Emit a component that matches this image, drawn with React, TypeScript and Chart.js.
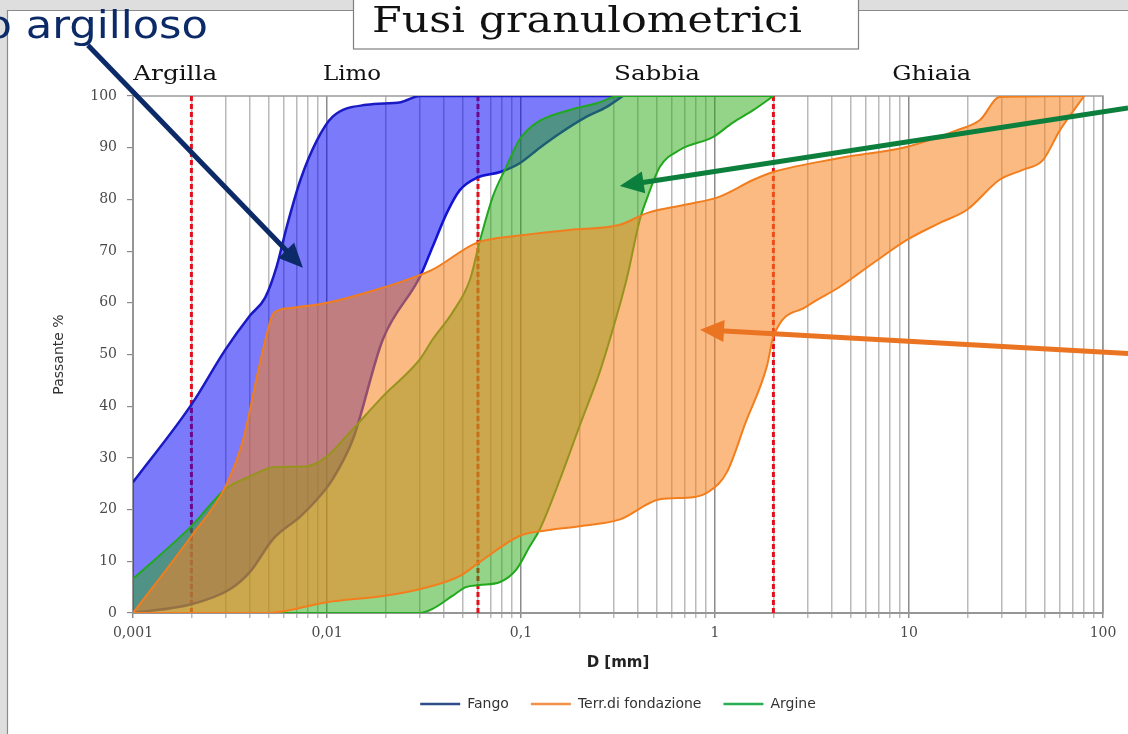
import React, { useEffect, useRef } from "react";
import { Chart, registerables } from "chart.js";

Chart.register(...registerables);

// ---------- DATA ----------
// Fango (upper / lower envelope)
const fangoSupX = [0.001, 0.002, 0.003, 0.004, 0.0048, 0.0055, 0.0062, 0.0073, 0.0089, 0.0107, 0.016, 0.024, 0.03, 0.335];
const fangoSupY = [25.3, 40.3, 51, 57.5, 61, 67, 74.7, 83.8, 91.5, 96, 98.3, 98.8, 100, 100];
const fangoInfX = [0.001, 0.002, 0.00316, 0.004, 0.00527, 0.0073, 0.0089, 0.0107, 0.0136, 0.0194, 0.0301, 0.035, 0.0415, 0.0484, 0.0593, 0.0782, 0.0985, 0.125, 0.159, 0.218, 0.277, 0.335];
const fangoInfY = [0, 1.7, 4.6, 7.9, 14.3, 18.7, 22, 25.9, 33.6, 52.9, 65, 70.8, 77.4, 81.8, 84.2, 85.3, 87, 90, 92.8, 96, 97.9, 100];

// Terr. di fondazione
const terrSupX = [0.001, 0.002, 0.003, 0.0037, 0.0044, 0.0049, 0.0053, 0.0065, 0.01, 0.016, 0.0238, 0.035, 0.059, 0.098, 0.178, 0.324, 0.449, 0.71, 1.05, 1.58, 2.0, 4.4, 9.8, 17.7, 23.3, 29.3, 80];
const terrSupY = [0, 14.9, 24.5, 33.6, 46.5, 54, 58, 59, 60, 62, 64, 66.4, 71.6, 73, 74.1, 75.1, 77.4, 79, 80.5, 83.8, 85.3, 88, 90.2, 93.4, 95.4, 99.8, 100];
const terrInfX = [0.001, 0.0049, 0.01, 0.0194, 0.03, 0.048, 0.061, 0.098, 0.125, 0.2, 0.324, 0.52, 0.77, 0.94, 1.15, 1.44, 1.85, 2.0, 2.97, 4.4, 6.6, 9.8, 14.5, 19.9, 29.3, 38.5, 49, 60, 80];
const terrInfY = [0, 0, 2.1, 3.3, 4.6, 7.1, 9.8, 14.9, 15.8, 16.8, 18.1, 22, 22.4, 23.6, 27.2, 36.9, 47.7, 53.5, 59.3, 63.1, 67.8, 72.2, 75.5, 78, 83.8, 85.7, 87.6, 93.4, 100];

// Argine
const argineSupX = [0.001, 0.002, 0.003, 0.004, 0.0053, 0.0079, 0.01, 0.0126, 0.0194, 0.03, 0.035, 0.0443, 0.0546, 0.061, 0.0715, 0.084, 0.098, 0.12, 0.178, 0.246, 0.32, 2.0];
const argineSupY = [6.6, 16.8, 24, 26.4, 28.2, 28.4, 30.3, 34.2, 41.9, 49, 52.9, 58.1, 64.5, 71.6, 80.5, 86.3, 91.5, 94.8, 97.3, 98.6, 100, 100];
const argineInfX = [0.001, 0.03, 0.035, 0.0443, 0.052, 0.061, 0.078, 0.095, 0.111, 0.125, 0.159, 0.2, 0.254, 0.287, 0.35, 0.41, 0.449, 0.52, 0.66, 0.98, 1.23, 1.58, 2.0];
const argineInfY = [0, 0, 0.8, 3.3, 5, 5.4, 6, 8.5, 12.9, 16.2, 25.9, 36.1, 46.5, 52.9, 64.5, 76.1, 80.5, 86.3, 89.6, 92.1, 94.8, 97.3, 100];

// class limits (mm)
const limitX = [0.002, 0.06, 2];
// zone labels
const zoneLabels = ["Argilla", "Limo", "Sabbia", "Ghiaia"];
const zoneLabelX = [0.00165, 0.01345, 0.502, 13.1];
// legend
const legendLabels = ["Fango", "Terr.di fondazione", "Argine"];
// axis
const xMin = 0.001;
const xMax = 100;
const yMin = 0;
const yMax = 100;
const yStep = 10;
const xTitle = "D [mm]";
const yTitle = "Passante %";
const chartTitle = "Fusi granulometrici";
const sideText = "o argilloso";
// annotation arrows (data coordinates: from -> to)
const arrowFromX = [0.000586, 134.6, 134.6];
const arrowFromY = [109.8, 97.7, 50.2];
const arrowToX = [0.00751, 0.323, 0.837];
const arrowToY = [66.8, 82.6, 54.8];

// ---------- helpers ----------
const pts = (xs: number[], ys: number[]) => xs.map((x, i) => ({ x, y: ys[i] }));
const isPow10 = (v: number) => Math.abs(Math.log10(v) - Math.round(Math.log10(v))) < 1e-9;
const fmt = (v: number) => {
  const s = v >= 1 ? String(Math.round(v)) : v.toFixed(Math.round(-Math.log10(v)));
  return s.replace(".", ",");
};

function fitText(ctx: CanvasRenderingContext2D, text: string, x: number, y: number, font: string, width: number, align: CanvasTextAlign) {
  ctx.save();
  ctx.font = font;
  const w = ctx.measureText(text).width;
  ctx.translate(x, y);
  ctx.scale(width / w, 1);
  ctx.textAlign = align;
  ctx.textBaseline = "alphabetic";
  ctx.fillText(text, 0, 0);
  ctx.restore();
}

function arrow(ctx: CanvasRenderingContext2D, x1: number, y1: number, x2: number, y2: number, color: string) {
  const ang = Math.atan2(y2 - y1, x2 - x1);
  const hl = 24;
  const hw = 11;
  const bx = x2 - hl * Math.cos(ang);
  const by = y2 - hl * Math.sin(ang);
  ctx.save();
  ctx.strokeStyle = color;
  ctx.fillStyle = color;
  ctx.lineWidth = 5;
  ctx.lineCap = "butt";
  ctx.beginPath();
  ctx.moveTo(x1, y1);
  ctx.lineTo(bx + 4 * Math.cos(ang), by + 4 * Math.sin(ang));
  ctx.stroke();
  ctx.beginPath();
  ctx.moveTo(x2, y2);
  ctx.lineTo(bx + hw * Math.sin(ang), by - hw * Math.cos(ang));
  ctx.lineTo(bx - hw * Math.sin(ang), by + hw * Math.cos(ang));
  ctx.closePath();
  ctx.fill();
  ctx.restore();
}

const decoPlugin = {
  id: "deco",
  beforeDraw(chart: any) {
    const ctx = chart.ctx as CanvasRenderingContext2D;
    const W = chart.width, H = chart.height;
    ctx.save();
    ctx.fillStyle = "#dedede";
    ctx.fillRect(0, 0, W, H);
    ctx.fillStyle = "#ffffff";
    ctx.fillRect(7, 10, W - 7, H - 10);
    ctx.strokeStyle = "#8a8a8a";
    ctx.lineWidth = 1.2;
    ctx.beginPath();
    ctx.moveTo(7.5, H);
    ctx.lineTo(7.5, 10.5);
    ctx.lineTo(W, 10.5);
    ctx.stroke();
    ctx.restore();
  },
  beforeDatasetsDraw(chart: any) {
    const ctx = chart.ctx as CanvasRenderingContext2D;
    const a = chart.chartArea;
    ctx.save();
    ctx.strokeStyle = "#9a9a9a";
    ctx.lineWidth = 1.5;
    ctx.strokeRect(a.left, a.top, a.right - a.left, a.bottom - a.top);
    ctx.restore();
  },
  afterDraw(chart: any) {
    const ctx = chart.ctx as CanvasRenderingContext2D;
    const xs = chart.scales.x;
    const ys = chart.scales.y;
    const a = chart.chartArea;
    ctx.save();
    // zone labels
    ctx.fillStyle = "#111111";
    const zw = [84, 58, 86, 79];
    zoneLabels.forEach((t, i) => {
      fitText(ctx, t, xs.getPixelForValue(zoneLabelX[i]), a.top - 16, "21px 'DejaVu Serif'", zw[i], "center");
    });
    // arrows
    const colors = ["#0c2a68", "#0d7f3c", "#ea7422"];
    for (let i = 0; i < arrowFromX.length; i++) {
      arrow(ctx,
        xs.getPixelForValue(arrowFromX[i]), ys.getPixelForValue(arrowFromY[i]),
        xs.getPixelForValue(arrowToX[i]), ys.getPixelForValue(arrowToY[i]), colors[i]);
    }
    // side text
    ctx.fillStyle = "#0c2a68";
    ctx.font = "37px 'DejaVu Sans'";
    const wo = ctx.measureText("o ").width;
    fitText(ctx, sideText, 20 - wo, 38, "37px 'DejaVu Sans'", 188 + wo, "left");
    // title box
    ctx.fillStyle = "#ffffff";
    ctx.fillRect(353, -2, 505, 51);
    ctx.strokeStyle = "#7f7f7f";
    ctx.lineWidth = 1.2;
    ctx.strokeRect(353.5, -2, 505, 51);
    ctx.fillStyle = "#111111";
    fitText(ctx, chartTitle, 372, 32, "35px 'DejaVu Serif'", 430, "left");
    ctx.restore();
  },
};

export default function App() {
  const ref = useRef<HTMLCanvasElement | null>(null);

  useEffect(() => {
    if (!ref.current) return;
    const blueLine = "#1a1ac4";
    const blueFill = "rgba(0,0,245,0.52)";
    const orLine = "#f07d1e";
    const orFill = "rgba(250,130,30,0.55)";
    const grLine = "#20a820";
    const grFill = "rgba(40,170,20,0.5)";
    const base = { pointRadius: 0, pointHoverRadius: 0, cubicInterpolationMode: "monotone" as const };

    const datasets: any[] = [
      { ...base, label: legendLabels[1], data: pts(terrSupX, terrSupY), borderColor: orLine, borderWidth: 2, backgroundColor: orFill, fill: { target: 1 } },
      { ...base, label: legendLabels[1] + " inf", data: pts(terrInfX, terrInfY), borderColor: orLine, borderWidth: 2, fill: false },
      { ...base, label: legendLabels[2], data: pts(argineSupX, argineSupY), borderColor: grLine, borderWidth: 2, backgroundColor: grFill, fill: { target: 3 } },
      { ...base, label: legendLabels[2] + " inf", data: pts(argineInfX, argineInfY), borderColor: grLine, borderWidth: 2, fill: false },
      { ...base, label: legendLabels[0], data: pts(fangoSupX, fangoSupY), borderColor: blueLine, borderWidth: 2.5, backgroundColor: blueFill, fill: { target: 5 } },
      { ...base, label: legendLabels[0] + " inf", data: pts(fangoInfX, fangoInfY), borderColor: blueLine, borderWidth: 2.5, fill: false },
      ...limitX.map((lx) => ({
        label: "lim " + lx,
        data: [{ x: lx, y: yMin }, { x: lx, y: yMax }],
        borderColor: "#e3101c",
        borderWidth: 3,
        borderDash: [5, 3],
        pointRadius: 0,
        fill: false,
      })),
    ];

    const legendColors = ["#2f4e8a", "#f0904a", "#2aae55"];

    const chart = new Chart(ref.current, {
      type: "line",
      data: { datasets },
      plugins: [decoPlugin],
      options: {
        animation: false,
        responsive: false,
        devicePixelRatio: 1,
        layout: { padding: { top: 96, left: 40, right: 25, bottom: 13 } },
        plugins: {
          tooltip: { enabled: false },
          title: { display: false },
          legend: {
            position: "bottom",
            fullSize: false,
            labels: {
              boxWidth: 40,
              boxHeight: 2.5,
              padding: 22,
              color: "#333333",
              font: { family: "'DejaVu Sans'", size: 14 },
              generateLabels: () =>
                legendLabels.map((t, i) => ({
                  text: t,
                  fillStyle: legendColors[i],
                  strokeStyle: legendColors[i],
                  lineWidth: 0,
                  hidden: false,
                  datasetIndex: i,
                  fontColor: "#333333",
                })),
            },
            onClick: () => {},
          },
        },
        scales: {
          x: {
            type: "logarithmic",
            min: xMin,
            max: xMax,
            afterBuildTicks: (scale: any) => {
              const t: any[] = [];
              for (let e = Math.log10(xMin); e < Math.log10(xMax); e++) {
                for (let m = 1; m <= 9; m++) t.push({ value: m * Math.pow(10, e) });
              }
              t.push({ value: xMax });
              scale.ticks = t;
            },
            afterFit: (scale: any) => {
              scale.height = 62;
            },
            ticks: {
              autoSkip: false,
              maxRotation: 0,
              padding: 7,
              color: "#4a4a4a",
              font: { family: "'DejaVu Serif'", size: 14 },
              callback: (v: any) => (isPow10(Number(v)) ? fmt(Number(v)) : ""),
            },
            grid: {
              color: (c: any) => (c.tick && isPow10(c.tick.value) ? "rgba(110,110,110,0.8)" : "rgba(130,130,130,0.55)"),
              lineWidth: 1.5,
              tickLength: 5,
            },
            border: { color: "#8a8a8a", width: 2 },
            title: {
              display: true,
              text: xTitle,
              color: "#222222",
              font: { family: "'DejaVu Sans'", size: 15, weight: "bold" },
              padding: { top: 0, bottom: 3 },
            },
          },
          y: {
            type: "linear",
            min: yMin,
            max: yMax,
            afterFit: (scale: any) => {
              scale.width = 93;
            },
            ticks: {
              stepSize: yStep,
              padding: 10,
              color: "#4a4a4a",
              font: { family: "'DejaVu Serif'", size: 14 },
            },
            grid: { drawOnChartArea: false, tickLength: 6, color: "#8a8a8a", lineWidth: 1.2 },
            border: { color: "#8a8a8a", width: 2 },
            title: {
              display: true,
              text: yTitle,
              color: "#333333",
              font: { family: "'DejaVu Sans'", size: 14 },
              padding: { top: 11, bottom: 0 },
            },
          },
        },
      },
    } as any);

    return () => chart.destroy();
  }, []);

  return (
    <div style={{ position: "fixed", left: 0, top: 0, width: 1128, height: 734, overflow: "hidden" }}>
      <canvas ref={ref} width={1128} height={734} style={{ width: 1128, height: 734, display: "block" }} />
    </div>
  );
}
